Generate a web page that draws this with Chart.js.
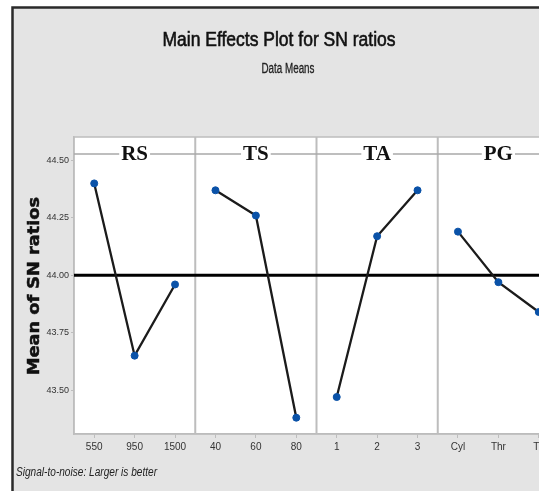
<!DOCTYPE html>
<html lang="en">
<head>
<meta charset="UTF-8">
<title>Main Effects Plot for SN ratios</title>
<script src="https://cdn.jsdelivr.net/npm/chart.js"></script>
<style>
    html, body {
        margin: 0;
        padding: 0;
        background: #fff;
        overflow: hidden;
    }
    .wrap {
        position: relative;
        width: 600px;
        height: 491px;
    }
</style>
</head>
<body>
<div class="wrap"><canvas id="mainEffects"></canvas></div>
<script>
// data
const factors = ['RS', 'TS', 'TA', 'PG'];
const levelLabels = [
    ['550', '950', '1500'],
    ['40', '60', '80'],
    ['1', '2', '3'],
    ['Cyl', 'Thr', 'Tri']
];
const rsMeans = [44.40, 43.65, 43.96];
const tsMeans = [44.37, 44.26, 43.38];
const taMeans = [43.47, 44.17, 44.37];
const pgMeans = [44.19, 43.97, 43.84];
const yTicks = [43.50, 43.75, 44.00, 44.25, 44.50];
const grandMean = 44.00;

const allMeans = [rsMeans, tsMeans, taMeans, pgMeans];
const flatLabels = levelLabels.flat();
const xMin = -0.5, xMax = factors.length * 3 - 0.5;

const FRAME = '#bdbdbd';
const BG = '#e4e4e4';
const SANS = '"Liberation Sans", Arial, sans-serif';

// text squeezed or stretched to a given width (the original uses a narrow face)
function fitText(ctx, text, x, y, width, angle, heavy) {
    const w = ctx.measureText(text).width;
    ctx.save();
    ctx.translate(x, y);
    if (angle) ctx.rotate(angle);
    ctx.scale(width / w, 1);
    ctx.fillText(text, 0, 0);
    if (heavy) {
        ctx.strokeStyle = ctx.fillStyle;
        ctx.lineWidth = heavy;
        ctx.strokeText(text, 0, 0);
    }
    ctx.restore();
}

const datasets = allMeans.map((means, p) => ({
    data: means.map((v, i) => ({ x: p * 3 + i, y: v })),
    borderColor: '#1b1b1b',
    borderWidth: 2.3,
    pointRadius: 3.5,
    pointBackgroundColor: '#0a52a8',
    pointBorderColor: '#0a52a8',
    pointBorderWidth: 1,
    order: 1
}));
datasets.push({
    data: [{ x: xMin, y: grandMean }, { x: xMax, y: grandMean }],
    borderColor: '#000',
    borderWidth: 3,
    pointRadius: 0,
    order: 2
});

// background, panel frame, dividers and headers
const decor = {
    id: 'decor',
    beforeDraw(chart) {
        const { ctx, width, height, chartArea: a } = chart;
        ctx.save();
        ctx.fillStyle = '#fff';
        ctx.fillRect(0, 0, width, height);
        ctx.fillStyle = BG;
        ctx.fillRect(12, 7, 575, height - 7);
        ctx.strokeStyle = '#2a2a2a';
        ctx.lineWidth = 2.5;
        ctx.beginPath();
        ctx.moveTo(12.5, height);
        ctx.lineTo(12.5, 7.5);
        ctx.lineTo(587, 7.5);
        ctx.stroke();
        ctx.fillStyle = '#fff';
        ctx.fillRect(a.left, a.top, a.right - a.left, a.bottom - a.top);
        ctx.restore();
    },
    beforeDatasetsDraw(chart) {
        const { ctx, chartArea: a, scales } = chart;
        const x = scales.x;
        ctx.save();
        ctx.strokeStyle = FRAME;
        ctx.lineWidth = 1.5;
        ctx.strokeRect(a.left, a.top, a.right - a.left, a.bottom - a.top);
        ctx.lineWidth = 2;
        for (let p = 1; p < factors.length; p++) {
            const px = x.getPixelForValue(p * 3 - 0.5);
            ctx.beginPath();
            ctx.moveTo(px, a.top);
            ctx.lineTo(px, a.bottom);
            ctx.stroke();
        }
        // header strip line
        const hy = 154;
        ctx.strokeStyle = '#a9a9a9';
        ctx.lineWidth = 1.5;
        ctx.beginPath();
        ctx.moveTo(a.left, hy);
        ctx.lineTo(a.right, hy);
        ctx.stroke();
        ctx.font = 'bold 21px "Liberation Serif", serif';
        ctx.textAlign = 'center';
        ctx.textBaseline = 'middle';
        factors.forEach((f, p) => {
            const cx = x.getPixelForValue(p * 3 + 1);
            const w = ctx.measureText(f).width;
            ctx.fillStyle = '#fff';
            ctx.fillRect(cx - w / 2 - 2, hy - 3, w + 4, 6);
            ctx.fillStyle = '#111';
            ctx.fillText(f, cx, hy + 1);
        });
        ctx.restore();
    },
    afterDraw(chart) {
        const { ctx } = chart;
        ctx.save();
        ctx.fillStyle = '#111';
        ctx.textAlign = 'center';
        ctx.textBaseline = 'middle';
        ctx.font = '20px ' + SANS;
        fitText(ctx, 'Main Effects Plot for SN ratios', 279, 40, 233, 0, 0.6);
        ctx.font = '14px ' + SANS;
        ctx.fillStyle = '#222';
        fitText(ctx, 'Data Means', 288, 69, 53, 0, 0.3);
        // y axis title
        ctx.fillStyle = '#111';
        ctx.font = 'bold 16px "DejaVu Sans", sans-serif';
        fitText(ctx, 'Mean of SN ratios', 35, 286, 178, -Math.PI / 2, 0.5);
        // footnote
        ctx.textAlign = 'left';
        ctx.fillStyle = '#222';
        ctx.font = 'italic 12px ' + SANS;
        fitText(ctx, 'Signal-to-noise: Larger is better', 16, 473, 141);
        ctx.restore();
    }
};

new Chart(document.getElementById('mainEffects'), {
    type: 'line',
    data: { datasets },
    options: {
        responsive: true,
        maintainAspectRatio: false,
        animation: false,
        layout: { padding: { top: 137, right: 41, left: 0, bottom: 0 } },
        plugins: {
            legend: { display: false },
            tooltip: { enabled: false }
        },
        scales: {
            x: {
                type: 'linear',
                min: xMin,
                max: xMax,
                afterBuildTicks: s => { s.ticks = flatLabels.map((_, i) => ({ value: i })); },
                afterFit: s => { s.height = 57; },
                grid: { drawOnChartArea: false, tickLength: 4, color: FRAME },
                border: { color: FRAME, width: 1.5 },
                ticks: {
                    autoSkip: false,
                    maxRotation: 0,
                    padding: 3,
                    color: '#333',
                    font: { family: SANS, size: 10 },
                    callback: v => flatLabels[v]
                }
            },
            y: {
                min: 43.309,
                max: 44.602,
                afterBuildTicks: s => { s.ticks = yTicks.map(v => ({ value: v })); },
                afterFit: s => { s.width = 74; },
                grid: { drawOnChartArea: false, tickLength: 3, color: FRAME },
                border: { color: FRAME, width: 1.5 },
                ticks: {
                    padding: 2,
                    color: '#333',
                    font: { family: SANS, size: 9 },
                    callback: v => v.toFixed(2)
                }
            }
        }
    },
    plugins: [decor]
});
</script>
</body>
</html>
